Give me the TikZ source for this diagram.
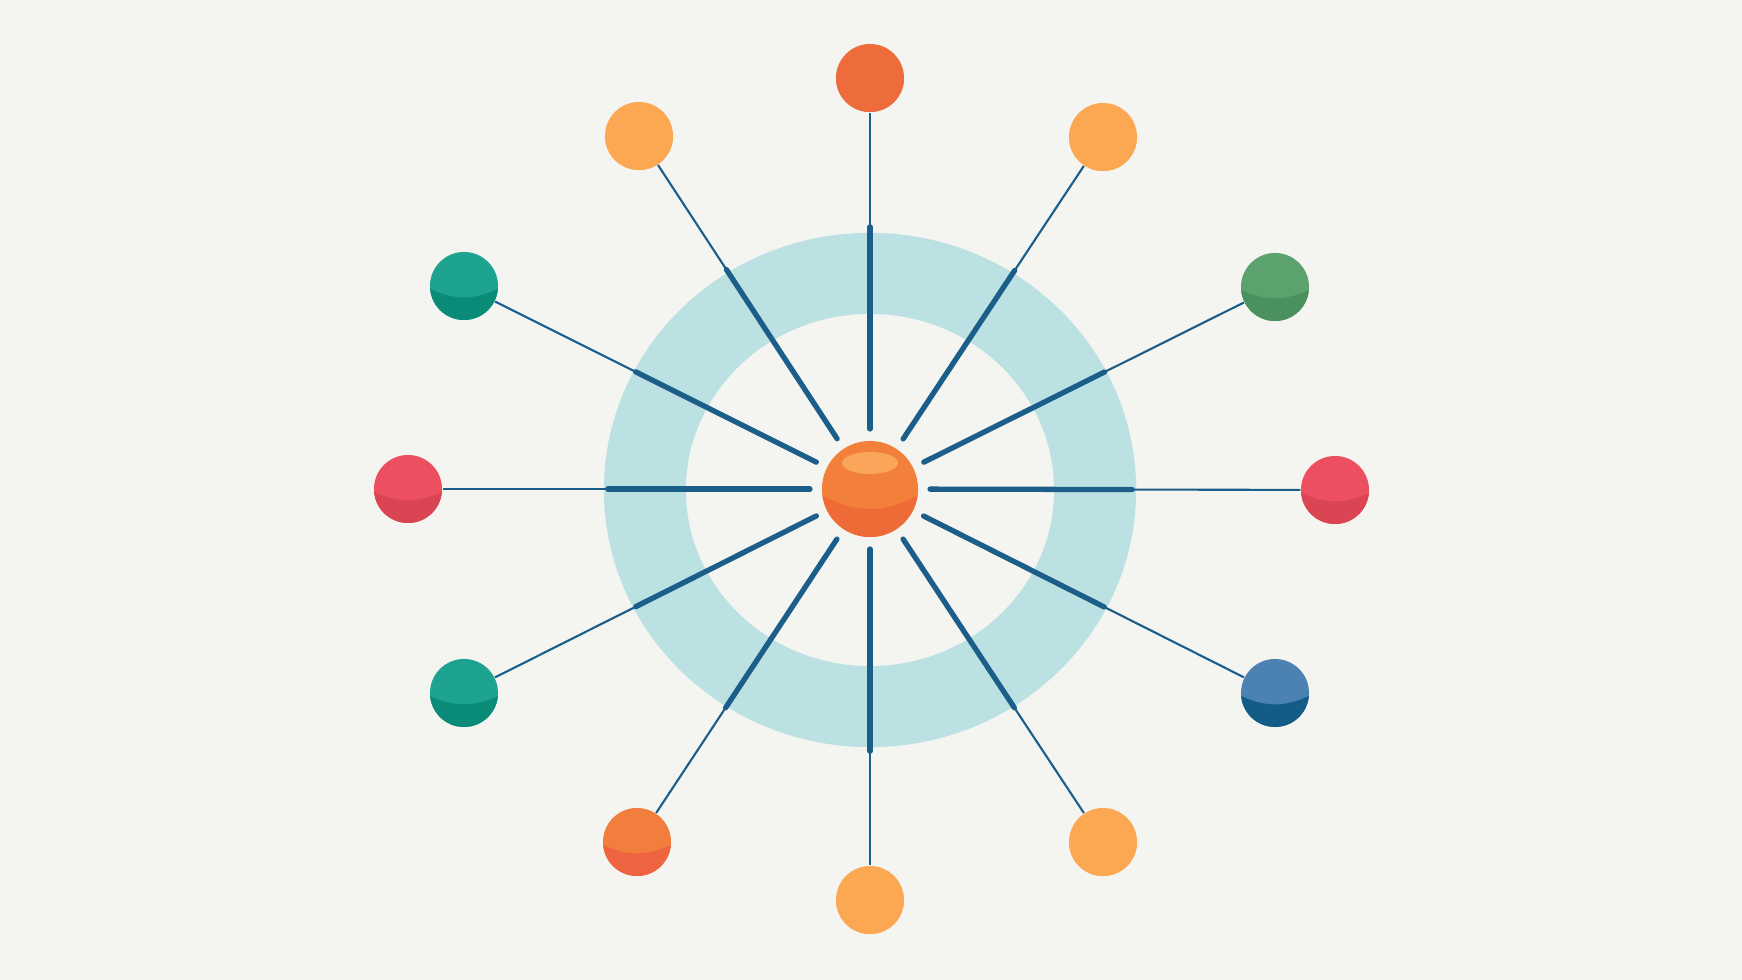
\documentclass[tikz,border=0pt]{standalone}
\usepackage{tikz}
\usetikzlibrary{calc,positioning}
\definecolor{paper}{HTML}{F4F4F1}
\definecolor{ringblue}{HTML}{BCE1E3}
\definecolor{spokeblue}{HTML}{1B5E8A}
\definecolor{hubmain}{HTML}{F3803A}
\definecolor{hubdark}{HTML}{EE6A36}
\definecolor{hublight}{HTML}{F9A65A}
\definecolor{lightorange}{HTML}{FCA852}
\definecolor{redorange}{HTML}{EE6B3B}
\definecolor{orangetop}{HTML}{F27E3D}
\definecolor{orangebot}{HTML}{EE6440}
\definecolor{tealtop}{HTML}{1EA390}
\definecolor{tealbot}{HTML}{0A8B78}
\definecolor{greentop}{HTML}{5BA26E}
\definecolor{greenbot}{HTML}{4B9160}
\definecolor{redtop}{HTML}{EC4F5F}
\definecolor{redbot}{HTML}{DA4453}
\definecolor{bluetop}{HTML}{4C82B2}
\definecolor{bluebot}{HTML}{135C88}

\tikzset{
  ball/.style 2 args={circle, minimum size=0.68cm, inner sep=0pt, fill=#1,
    path picture={\fill[#2] ([yshift=-0.3mm]path picture bounding box.west) to[bend right=25] ([yshift=-0.3mm]path picture bounding box.east) -- (path picture bounding box.south east) -- (path picture bounding box.south west) -- cycle;}},
  spoke/.style={spokeblue, line width=0.6pt},
  spokebold/.style={spokeblue, line width=1.5pt, line cap=round},
}

\begin{document}
\begin{tikzpicture}[x=0.01cm, y=-0.01cm]
  \fill[paper] (0,0) rectangle (1742,980);
  \useasboundingbox (0,0) rectangle (1742,980);
  % ring
  \fill[ringblue, even odd rule] (870,490) ellipse (2.66cm and 2.57cm) (870,490) ellipse (1.84cm and 1.76cm);
  % hub
  \node[circle, minimum size=0.96cm, inner sep=0pt, fill=hubmain,
    path picture={\fill[hubdark] ([yshift=-0.6mm]path picture bounding box.west) to[bend right=30] ([yshift=-0.6mm]path picture bounding box.east) -- (path picture bounding box.south east) -- (path picture bounding box.south west) -- cycle;}] (hub) at (870,489) {};
  \fill[hublight] ([yshift=2.6mm]hub.center) ellipse (0.28cm and 0.11cm);
  % outer balls and spokes
  \foreach \name/\px/\py/\ctop/\cbot in {
      top/870/78/redorange/redorange,
      topright/1103/137/lightorange/lightorange,
      rightup/1275/287/greentop/greenbot,
      right/1335/490/redtop/redbot,
      rightlow/1275/693/bluetop/bluebot,
      botright/1103/842/lightorange/lightorange,
      bot/870/900/lightorange/lightorange,
      botleft/637/842/orangetop/orangebot,
      leftlow/464/693/tealtop/tealbot,
      left/408/489/redtop/redbot,
      leftup/464/286/tealtop/tealbot,
      topleft/639/136/lightorange/lightorange} {
    \node[ball={\ctop}{\cbot}] (\name) at (\px,\py) {};
    \coordinate (\name-in) at ($(hub)!0.6cm!(\name)$);
    \coordinate (\name-rim) at ($(hub)!2.62cm!(\name)$);
    \draw[spoke] (\name-rim) -- (\name);
    \draw[spokebold] (\name-in) -- (\name-rim);
  }
\end{tikzpicture}
\end{document}
